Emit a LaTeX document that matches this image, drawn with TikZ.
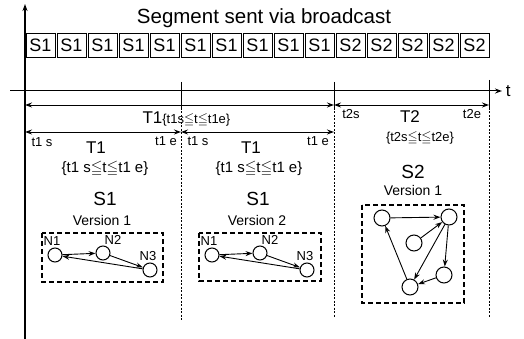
\documentclass[tikz,border=0pt]{standalone}
\usepackage{fontspec}
\usepackage{amssymb}
\setmainfont{Liberation Sans}
\usetikzlibrary{arrows.meta}

\newcommand{\fs}[1]{\fontsize{#1}{#1}\selectfont}

\tikzset{
  segbox/.style={draw, line width=0.8pt, minimum width=29pt, minimum height=24pt, inner sep=0pt, font=\fs{18}},
  gnode/.style={draw, circle, line width=1pt, inner sep=0pt, minimum size=14pt},
  gedge/.style={->, line width=0.9pt},
  grpbox/.style={draw, line width=1.2pt, dash pattern=on 5pt off 3pt},
  span/.style={<->, line width=0.9pt},
  sepline/.style={line width=0.6pt, dash pattern=on 2pt off 1.5pt},
}

\begin{document}
\begin{tikzpicture}[x=1pt, y=-1pt, >={Stealth[open,length=7pt,width=5pt]}, font=\fs{14}]
  \useasboundingbox (0,0) rectangle (524,339);

  % axes
  \coordinate (Ytop) at (25,4);
  \coordinate (Ybot) at (25,339);
  \coordinate (Tl) at (10,91);
  \coordinate (Tr) at (502,91);
  \draw[->, line width=1.2pt] (Ybot) -- (Ytop);
  \draw[->, line width=1pt] (Tl) -- (Tr) node[right, font=\fs{17}] (tlabel) {t};

  % segments
  \node[font=\fs{20.5}] (title) at (264,18) {Segment sent via broadcast};
  \foreach \i in {1,...,10}
    \node[segbox] (seg\i) at ({25+31*(\i-0.5)},45.5) {S1};
  \foreach \i in {11,...,15}
    \node[segbox] (seg\i) at ({25+31*(\i-0.5)},45.5) {S2};

  % time marks
  \coordinate (A0) at (25,105);
  \coordinate (A1) at (334,105);
  \coordinate (A2) at (489,105);
  \coordinate (B0) at (25,132);
  \coordinate (B1) at (181,132);
  \coordinate (B2) at (334,132);
  \draw[line width=0.9pt] (181,82) -- (181,108);
  \draw[line width=0.9pt] (334,82) -- (334,108);
  \draw[line width=0.9pt] (489,80) -- (489,108);
  \draw[sepline] (181,108) -- (181,320);
  \draw[sepline] (334,108) -- (334,318);
  \draw[sepline] (489,108) -- (489,318);

  \draw[span] (A0) -- (A1);
  \draw[span] (A1) -- (A2);
  \draw[span] (B0) -- (B1);
  \draw[span] (B1) -- (B2);
  \node[anchor=west] (T1all) at (139,119)
    {\fs{17}T1\fs{13}\{t1s$\leqq$t$\leqq$t1e\}};

  % column 1
  \node[font=\fs{13}] (c1s) at (42,142) {t1 s};
  \node[font=\fs{13}] (c1e) at (166,141) {t1 e};
  \node[font=\fs{17}] (c1T) at (96,148) {T1};
  \node[font=\fs{15}] (c1r) at (105,169) {\{t1 s$\leqq$t$\leqq$t1 e\}};
  \node[font=\fs{19}] (c1S) at (105,199) {S1};
  \node (c1v) at (102,220) {Version 1};

  % column 2
  \node[font=\fs{13}] (c2s) at (198,141) {t1 s};
  \node[font=\fs{13}] (c2e) at (318,141) {t1 e};
  \node[font=\fs{17}] (c2T) at (251,148) {T1};
  \node[font=\fs{15}] (c2r) at (259,169) {\{t1 s$\leqq$t$\leqq$t1 e\}};
  \node[font=\fs{19}] (c2S) at (258,199) {S1};
  \node (c2v) at (257,220) {Version 2};

  % column 3
  \node[font=\fs{13}] (c3s) at (351,114) {t2s};
  \node[font=\fs{13}] (c3e) at (472,114) {t2e};
  \node[font=\fs{17}] (c3T) at (410,117) {T2};
  \node[font=\fs{13}] (c3r) at (420,138) {\{t2s$\leqq$t$\leqq$t2e\}};
  \node[font=\fs{19}] (c3S) at (413,172) {S2};
  \node (c3v) at (413,190) {Version 1};

  % graph, version 1
  \draw[grpbox] (42,233) rectangle (163,282);
  \node[gnode] (g1a) at (55,255) {};
  \node[gnode] (g1b) at (103,253) {};
  \node[gnode] (g1c) at (150,270) {};
  \node[font=\fs{13}] (g1al) at (52,241) {N1};
  \node[font=\fs{13}] (g1bl) at (113,240) {N2};
  \node[font=\fs{13}] (g1cl) at (148,256) {N3};
  \draw[gedge] (g1a) -- (g1b);
  \draw[gedge] (g1b) -- (g1c);
  \draw[gedge] (g1c) -- (g1a);

  % graph, version 2
  \draw[grpbox] (199,233) rectangle (321,281);
  \node[gnode] (g2a) at (212,255) {};
  \node[gnode] (g2b) at (260,253) {};
  \node[gnode] (g2c) at (307,270) {};
  \node[font=\fs{13}] (g2al) at (209,241) {N1};
  \node[font=\fs{13}] (g2bl) at (270,240) {N2};
  \node[font=\fs{13}] (g2cl) at (305,256) {N3};
  \draw[gedge] (g2a) -- (g2b);
  \draw[gedge] (g2b) -- (g2c);
  \draw[gedge] (g2c) -- (g2a);

  % graph, S2
  \draw[grpbox] (362,205) rectangle (464,303);
  \node[gnode, minimum size=16pt] (g3a) at (382,218) {};
  \node[gnode, minimum size=16pt] (g3b) at (449,217) {};
  \node[gnode, minimum size=16pt] (g3c) at (414,243) {};
  \node[gnode, minimum size=16pt] (g3d) at (444,275) {};
  \node[gnode, minimum size=16pt] (g3e) at (410,287) {};
  \draw[gedge] (g3a) -- (g3b);
  \draw[gedge] (g3c) -- (g3b);
  \draw[gedge] (g3b) -- (g3d);
  \draw[gedge] (g3b) -- (g3e);
  \draw[gedge] (g3d) -- (g3e);
  \draw[gedge] (g3e) -- (g3a);
\end{tikzpicture}
\end{document}
